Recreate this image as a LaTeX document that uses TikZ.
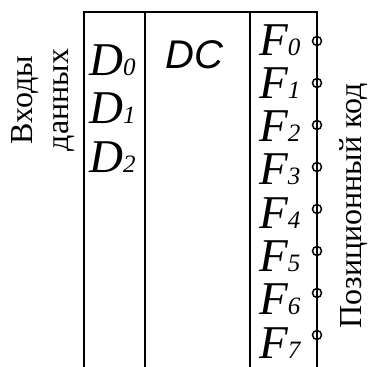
\documentclass[tikz,border=0pt]{standalone}
\usepackage{fontspec}
\newfontfamily\tnr{Liberation Serif}
\newfontfamily\tnri{Liberation Serif Italic}
\newfontfamily\ariali{Liberation Sans Italic}
\newcommand\sbs[1]{{\fontsize{25}{25}\selectfont #1}}
\tikzset{
  lbl/.style={inner sep=0, anchor=base west, font=\tnri\fontsize{47}{47}\selectfont},
  rlbl/.style={inner sep=0, anchor=base, rotate=90, font=\tnr\fontsize{32}{32}\selectfont},
  frame/.style={line width=1.7pt, black},
  outcirc/.style={circle, draw, line width=1.5pt, black, inner sep=0, minimum size=9pt},
}
\begin{document}
\begin{tikzpicture}[x=1pt,y=-1pt]
\useasboundingbox (0,0) rectangle (368,367);
% frame
\coordinate (tl) at (84,12);
\coordinate (tr) at (317,12);
\coordinate (bl) at (84,367);
\coordinate (br) at (317,367);
\coordinate (m1t) at (145,12);
\coordinate (m1b) at (145,367);
\coordinate (m2t) at (250,12);
\coordinate (m2b) at (250,367);
\draw[frame] (bl) -- (tl) -- (tr) -- (br);
\draw[frame] (m1t) -- (m1b);
\draw[frame] (m2t) -- (m2b);
% inputs
\node[lbl] (d0) at (89,75) {D\sbs{0}};
\node[lbl] (d1) at (89,123) {D\sbs{1}};
\node[lbl] (d2) at (89,172) {D\sbs{2}};
\node[inner sep=0, anchor=base west, font=\ariali\fontsize{40}{40}\selectfont] (dc) at (165,68) {DC};
% outputs
\foreach \i in {0,...,7}{
  \node[lbl] (f\i) at (259,{55+43.3*\i}) {F\sbs{\i}};
  \node[outcirc] (c\i) at (317,{41+42*\i}) {};
}
% side labels
\node[rlbl] (vx) at (32,100) {Входы};
\node[rlbl] (dan) at (69,100) {данных};
\node[rlbl] (poz) at (362,206) {Позиционный код};
\end{tikzpicture}
\end{document}
